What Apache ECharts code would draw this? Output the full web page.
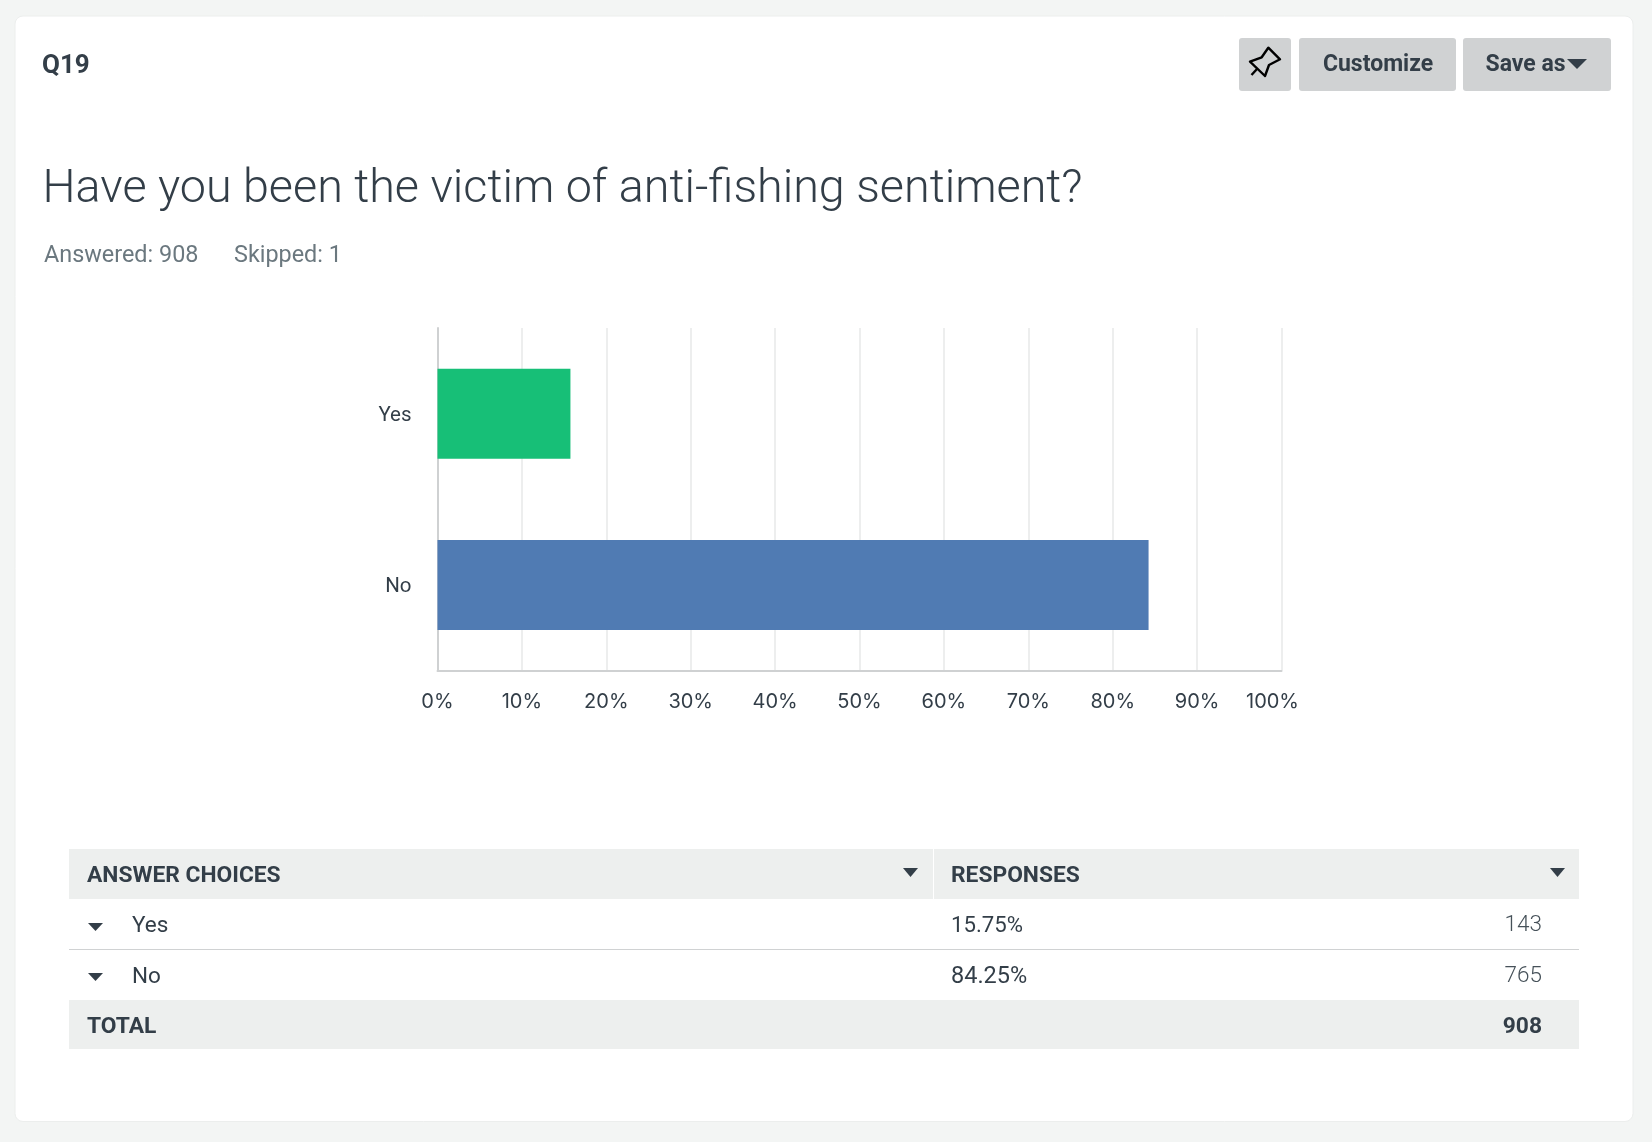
<!DOCTYPE html>
<html>
<head>
<meta charset="utf-8">
<style>
  html, body { margin: 0; padding: 0; background: #f3f5f4; }
  #main { width: 1652px; height: 1142px; }
</style>
<script src="https://cdn.jsdelivr.net/npm/echarts@6/dist/echarts.min.js"></script>
</head>
<body>
<div id="main"></div>
<script>
const categories = ['Yes', 'No'];
const percentValues = [15.75, 84.25];
const barColors = ['#17bf77', '#507bb3'];
const percentLabels = ['15.75%', '84.25%'];
const responseCounts = ['143', '765'];
const totalLabel = 'TOTAL';
const totalCount = '908';
const questionId = 'Q19';
const questionTitle = 'Have you been the victim of anti-fishing sentiment?';
const answeredText = 'Answered: 908';
const skippedText = 'Skipped: 1';
const columnHeaders = ['ANSWER CHOICES', 'RESPONSES'];

const dark = '#333e48';
const sans = 'Roboto';

function text(str, x, y, size, opts) {
  opts = opts || {};
  return {
    type: 'text',
    x: x,
    y: y,
    style: {
      text: str,
      fill: opts.color || dark,
      fontFamily: opts.family || sans,
      fontSize: size,
      fontWeight: opts.weight || 400,
      align: opts.align || 'left',
      verticalAlign: 'middle'
    }
  };
}
function box(x, y, w, h, fill, r, stroke) {
  return {
    type: 'rect',
    shape: { x: x, y: y, width: w, height: h, r: r || 0 },
    style: { fill: fill, stroke: stroke || null, lineWidth: stroke ? 1 : 0 },
    z: -1
  };
}
function tri(x, y, w, h) {
  return {
    type: 'polygon',
    shape: { points: [[x, y], [x + w, y], [x + w / 2, y + h]] },
    style: { fill: dark }
  };
}

const graphics = [
  box(15, 16, 1618, 1105.5, '#ffffff', 8, '#eceeed'),

  text(questionId, 42, 66, 26, { weight: 700 }),
  text(questionTitle, 42.5, 190, 46.7, { weight: 300 }),
  text(answeredText, 44, 256, 23.4, { color: '#6b787f' }),
  text(skippedText, 234, 256, 23.4, { color: '#6b787f' }),

  // buttons
  box(1239, 38, 52, 53, '#d0d2d3', 3),
  box(1299, 38, 157, 53, '#d0d2d3', 3),
  box(1463, 38, 148, 53, '#d0d2d3', 3),
  {
    type: 'polygon',
    shape: { points: [[1268.3, 47.7], [1280, 59.3], [1269, 65], [1265, 76], [1250, 61.7], [1261.7, 57.3]] },
    style: { fill: 'none', stroke: '#000', lineWidth: 2.4, lineJoin: 'round' }
  },
  {
    type: 'line',
    shape: { x1: 1257, y1: 69, x2: 1251.5, y2: 75 },
    style: { stroke: '#000', lineWidth: 2.4 }
  },
  text('Customize', 1378, 65.5, 23, { weight: 700, align: 'center' }),
  text('Save as', 1485.5, 65.5, 23, { weight: 700 }),
  tri(1567, 59, 20, 10),

  // table
  box(69, 849, 1510, 50, '#edefee'),
  box(69, 1000, 1510, 49, '#edefee'),
  box(933, 849, 1, 50, '#ffffff'),
  box(69, 949, 1510, 1, '#d0d2d3'),
  text(columnHeaders[0], 87, 876, 22.8, { weight: 700 }),
  text(columnHeaders[1], 951, 876, 22.8, { weight: 700 }),
  tri(903, 868, 15, 9),
  tri(1550, 868, 15, 9),
  text(totalLabel, 87, 1027, 22.8, { weight: 700 }),
  text(totalCount, 1542, 1027, 22.8, { weight: 700, align: 'right' })
];

categories.forEach(function (name, i) {
  const y = i === 0 ? 926 : 977;
  graphics.push(tri(88, i === 0 ? 923 : 973, 15, 8));
  graphics.push(text(name, 132, y, 22.5));
  graphics.push(text(percentLabels[i], 951, y, i === 0 ? 22.2 : 23.5));
  graphics.push(text(responseCounts[i], 1542, y - 1, 22.5, { align: 'right', color: '#465159', weight: 300 }));
});

const chart = echarts.init(document.getElementById('main'));
chart.setOption({
  animation: false,
  backgroundColor: '#f3f5f4',
  grid: { left: 437.5, top: 328, width: 844, height: 342.5 },
  xAxis: {
    type: 'value',
    min: 0,
    max: 100,
    interval: 10,
    axisLine: { show: true, lineStyle: { color: '#cfd1d2', width: 2 } },
    axisTick: { show: false },
    splitLine: { show: true, lineStyle: { color: '#edeeee', width: 2 } },
    axisLabel: {
      margin: 21,
      color: dark,
      fontFamily: 'Inter',
      fontSize: 20,
      formatter: function (v) {
        return v === 100 ? '{last|' + v + '%}' : v + '%';
      },
      rich: {
        last: { color: dark, fontFamily: 'Inter', fontSize: 20, padding: [0, 18, 0, 0] }
      }
    }
  },
  yAxis: {
    type: 'category',
    inverse: true,
    data: categories,
    axisLine: { show: true, lineStyle: { color: '#cfd1d2', width: 2 } },
    axisTick: { show: false },
    axisLabel: {
      margin: 26,
      formatter: function (v) {
        return '{c|' + v + '}';
      },
      rich: {
        c: { color: dark, fontFamily: sans, fontSize: 20.5, padding: [4, 0, 0, 0] }
      }
    }
  },
  series: [{
    type: 'bar',
    barWidth: 90,
    data: percentValues.map(function (v, i) {
      return { value: v, itemStyle: { color: barColors[i] } };
    })
  }],
  graphic: graphics
});
</script>
</body>
</html>
